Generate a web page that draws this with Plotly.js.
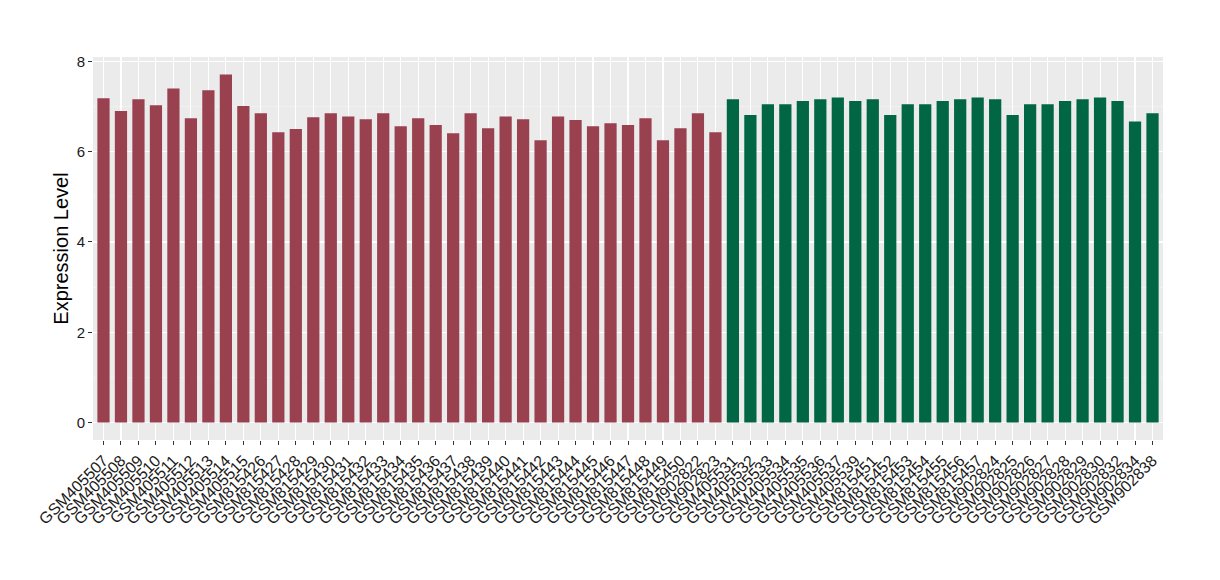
<!DOCTYPE html>
<html>
<head>
<meta charset="utf-8">
<script src="https://cdn.plot.ly/plotly-3.0.1.min.js"></script>
<style>html,body{margin:0;padding:0;background:#fff;}#chart{width:1220px;height:580px;}</style>
</head>
<body>
<div id="chart"></div>
<script>
const groupASamples = ["GSM405507","GSM405508","GSM405509","GSM405510","GSM405511","GSM405512","GSM405513","GSM405514","GSM405515",
  "GSM815426","GSM815427","GSM815428","GSM815429","GSM815430","GSM815431","GSM815432","GSM815433","GSM815434","GSM815435",
  "GSM815436","GSM815437","GSM815438","GSM815439","GSM815440","GSM815441","GSM815442","GSM815443","GSM815444","GSM815445",
  "GSM815446","GSM815447","GSM815448","GSM815449","GSM815450","GSM902822","GSM902823"];
const groupAValues = [7.18,6.90,7.16,7.03,7.40,6.74,7.36,7.71,7.01,
  6.85,6.43,6.50,6.76,6.85,6.78,6.72,6.85,6.56,6.74,
  6.59,6.41,6.85,6.52,6.78,6.72,6.25,6.78,6.70,6.56,
  6.63,6.59,6.74,6.25,6.52,6.85,6.43];
const groupBSamples = ["GSM405531","GSM405532","GSM405533","GSM405534","GSM405535","GSM405536","GSM405537","GSM405539",
  "GSM815451","GSM815452","GSM815453","GSM815454","GSM815455","GSM815456","GSM815457",
  "GSM902824","GSM902825","GSM902826","GSM902827","GSM902828","GSM902829","GSM902830","GSM902832","GSM902834","GSM902838"];
const groupBValues = [7.16,6.81,7.05,7.05,7.12,7.16,7.20,7.12,
  7.16,6.81,7.05,7.05,7.12,7.16,7.20,
  7.16,6.81,7.05,7.05,7.12,7.16,7.20,7.12,6.67,6.85];
const yTicks = [0,2,4,6,8];

const allSamples = groupASamples.concat(groupBSamples);
const font = "Liberation Sans, Arial, sans-serif";

const traces = [
  {type:'bar', x:groupASamples, y:groupAValues, width:0.7, marker:{color:'#9A4150'}, showlegend:false, hoverinfo:'x+y'},
  {type:'bar', x:groupBSamples, y:groupBValues, width:0.7, marker:{color:'#006644'}, showlegend:false, hoverinfo:'x+y'}
];

const layout = {
  width:1220, height:580,
  margin:{l:93, r:57, t:57, b:140},
  paper_bgcolor:'#ffffff',
  plot_bgcolor:'#EBEBEB',
  font:{family:font, color:'#000'},
  barmode:'overlay',
  xaxis:{
    type:'category', categoryorder:'array', categoryarray:allSamples,
    tickmode:'array', tickvals:allSamples, ticktext:allSamples,
    range:[-0.6, allSamples.length-0.4],
    showgrid:true, gridcolor:'#ffffff', gridwidth:1.1,
    tickangle:-45, tickfont:{size:16, color:'#1a1a1a', family:font},
    ticks:'outside', ticklen:4, tickcolor:'#333333', tickwidth:1,
    zeroline:false, showline:false, automargin:false
  },
  yaxis:{
    range:[-0.386, 8.096],
    tickvals:yTicks, ticktext:yTicks.map(String),
    showgrid:true, gridcolor:'#ffffff', gridwidth:1.1,
    minor:{tickmode:'array', tickvals:[1,3,5,7], showgrid:true, gridcolor:'#F5F5F5', gridwidth:0.6, ticks:''},
    ticks:'outside', ticklen:4, tickcolor:'#333333', tickwidth:1,
    tickfont:{size:15, color:'#1a1a1a', family:font},
    zeroline:false, showline:false, automargin:false,
    title:{text:'Expression Level', font:{size:20, color:'#000', family:font}, standoff:2}
  }
};

Plotly.newPlot('chart', traces, layout, {displayModeBar:false, staticPlot:true});
</script>
</body>
</html>
